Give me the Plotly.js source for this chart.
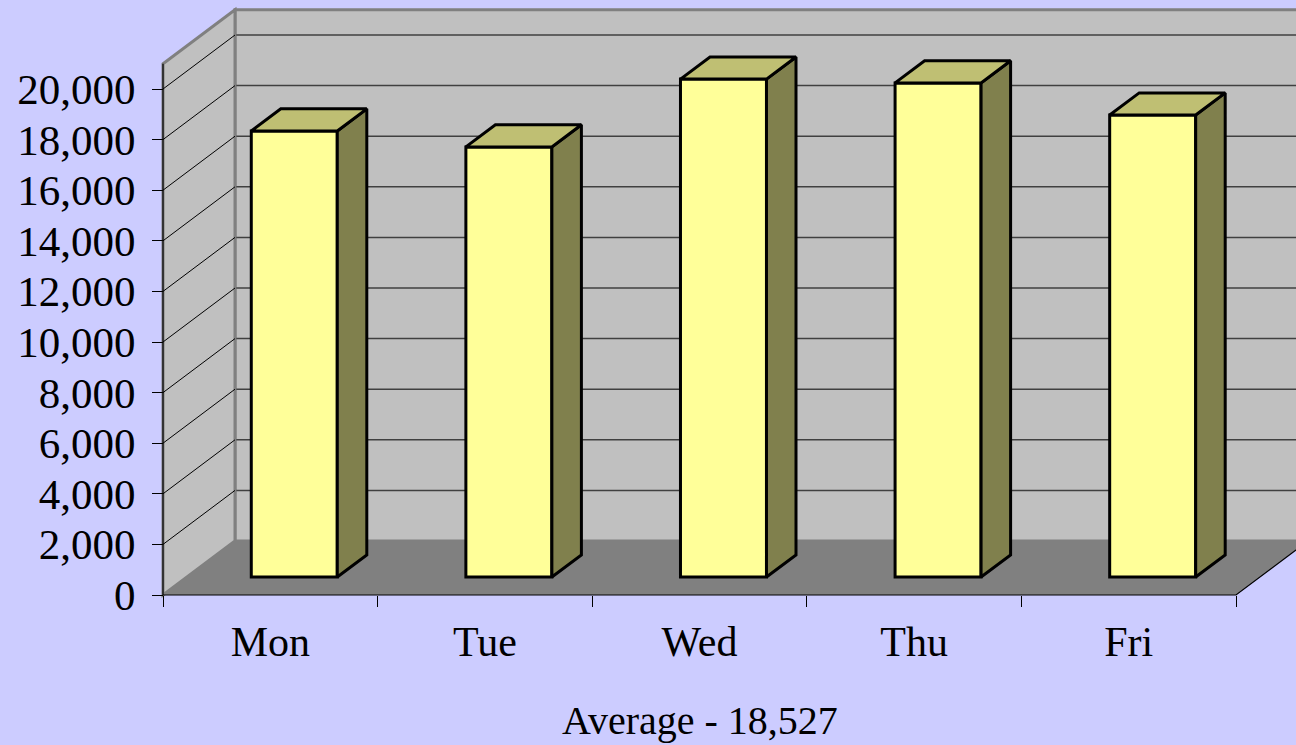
<!DOCTYPE html>
<html>
<head>
<meta charset="utf-8">
<script src="https://cdn.plot.ly/plotly-3.0.1.min.js"></script>
<style>
  html, body { margin: 0; padding: 0; background: #CCCCFF; }
  #chart { width: 1296px; height: 745px; }
</style>
</head>
<body>
<div id="chart"></div>
<script>
// ---- data ----
const days = ['Mon', 'Tue', 'Wed', 'Thu', 'Fri'];
const sales = [17630, 17000, 19680, 19530, 18260];
const yTickVals = [0, 2000, 4000, 6000, 8000, 10000, 12000, 14000, 16000, 18000, 20000];
const yTickText = ['0', '2,000', '4,000', '6,000', '8,000', '10,000', '12,000', '14,000', '16,000', '18,000', '20,000'];
const titleText = 'Average - 18,527';

// ---- 3D geometry (in axis units) ----
const UX = 214.6;            // px per category unit
const UY = 2000 / 50.6;      // value units per px
const DX = 72 / UX;          // depth offset x
const DY = 54 * UY;          // depth offset y
const YMAX = 21000;          // wall height
const F0 = 0.333;            // front depth of bars
const BD = 0.41;             // bar depth fraction
const BW = 86 / UX;          // bar width
const NCAT = days.length;

const ml = 155, mt = 4, mb = 145, W = 1296, H = 745;
const plotW = W - ml, plotH = H - mt - mb;
const xr0 = -(163 - ml) / UX, xr1 = (W - 163) / UX;
const yr0 = -(600 - 595) * UY, yr1 = (595 - mt) * UY;
const XR = xr1 + 0.2;

// ---- bars ----
const xs = sales.map((v, i) => i + 0.5 + F0 * DX);
const base0 = F0 * DY;
const ddx = BD * DX, ddy = BD * DY;

const topX = [], topY = [], sideX = [], sideY = [];
sales.forEach((v, i) => {
  const x0 = xs[i] - BW / 2, x1 = xs[i] + BW / 2;
  const yb = base0, yt = base0 + v;
  topX.push(x0, x1, x1 + ddx, x0 + ddx, x0, null);
  topY.push(yt, yt, yt + ddy, yt + ddy, yt, null);
  sideX.push(x1, x1 + ddx, x1 + ddx, x1, x1, null);
  sideY.push(yb, yb + ddy, yt + ddy, yt, yb, null);
});

const traces = [
  {
    type: 'bar', x: xs, y: sales, base: sales.map(() => base0), width: BW,
    marker: { color: '#FFFF99', line: { color: '#000000', width: 3 } },
    hoverinfo: 'skip', showlegend: false
  },
  {
    type: 'scatter', mode: 'lines', x: sideX, y: sideY, fill: 'toself',
    fillcolor: '#80804D', line: { color: '#000000', width: 3 },
    hoverinfo: 'skip', showlegend: false
  },
  {
    type: 'scatter', mode: 'lines', x: topX, y: topY, fill: 'toself',
    fillcolor: '#BFBF73', line: { color: '#000000', width: 3 },
    hoverinfo: 'skip', showlegend: false
  }
];

// ---- walls, floor, gridlines ----
function P(pts) { return 'M' + pts.map(p => p[0] + ',' + p[1]).join(' L') + ' Z'; }
function L(pts) { return 'M' + pts.map(p => p[0] + ',' + p[1]).join(' L'); }
const shapes = [];
shapes.push({ type: 'path', xref: 'x', yref: 'y', layer: 'below',
  path: P([[DX, DY], [XR, DY], [XR, YMAX + DY], [DX, YMAX + DY]]),
  fillcolor: '#C0C0C0', line: { color: '#808080', width: 3 } });
shapes.push({ type: 'path', xref: 'x', yref: 'y', layer: 'below',
  path: P([[0, 0], [DX, DY], [DX, YMAX + DY], [0, YMAX]]),
  fillcolor: '#C0C0C0', line: { color: '#808080', width: 3 } });
shapes.push({ type: 'path', xref: 'x', yref: 'y', layer: 'below',
  path: P([[0, 0], [NCAT, 0], [NCAT + DX, DY], [DX, DY]]),
  fillcolor: '#808080', line: { width: 0 } });
yTickVals.filter(v => v > 0).forEach(v => {
  shapes.push({ type: 'path', xref: 'x', yref: 'y', layer: 'below',
    path: L([[0, v], [DX, v + DY]]), line: { color: '#000000', width: 1 } });
  shapes.push({ type: 'path', xref: 'x', yref: 'y', layer: 'below',
    path: L([[DX + 0.006, v + DY], [XR, v + DY]]), line: { color: '#404040', width: 1.5 } });
});
// axis lines
shapes.push({ type: 'path', xref: 'x', yref: 'y', layer: 'below',
  path: L([[0, YMAX], [0, 0], [NCAT, 0], [NCAT + DX, DY]]), line: { color: '#000000', width: 1.2 } });

const serif = 'Liberation Serif, Times New Roman, serif';
const layout = {
  width: W, height: H,
  margin: { l: ml, r: 0, t: mt, b: mb, pad: 0 },
  paper_bgcolor: '#CCCCFF', plot_bgcolor: 'rgba(0,0,0,0)',
  showlegend: false,
  bargap: 0,
  xaxis: {
    range: [xr0, xr1], anchor: 'free', position: 5 / plotH,
    tickmode: 'array', tickvals: days.map((d, i) => i + 0.5), ticktext: days,
    ticks: '', showgrid: false, zeroline: false, showline: false,
    tickfont: { family: serif, size: 42, color: '#000000' },
    ticklabelstandoff: 18,
    minor: { tickmode: 'array', tickvals: [0, 1, 2, 3, 4, 5], ticks: 'outside', ticklen: 11,
             tickwidth: 1, tickcolor: '#000000', showgrid: false },
    fixedrange: true
  },
  yaxis: {
    range: [yr0, yr1], anchor: 'free', position: (163 - ml) / plotW,
    tickmode: 'array', tickvals: yTickVals, ticktext: yTickText,
    ticks: 'outside', ticklen: 11, tickwidth: 1, tickcolor: '#000000',
    showgrid: false, zeroline: false, showline: false,
    tickfont: { family: serif, size: 43, color: '#000000' },
    ticklabelstandoff: 8,
    fixedrange: true
  },
  annotations: [{
    text: titleText, xref: 'x', yref: 'paper', x: NCAT / 2, y: (600 - 720) / plotH,
    xanchor: 'center', yanchor: 'middle', showarrow: false,
    font: { family: serif, size: 40, color: '#000000' }
  }]
};

Plotly.newPlot('chart', traces, Object.assign(layout, { shapes: shapes }), { staticPlot: true, displayModeBar: false });
</script>
</body>
</html>
